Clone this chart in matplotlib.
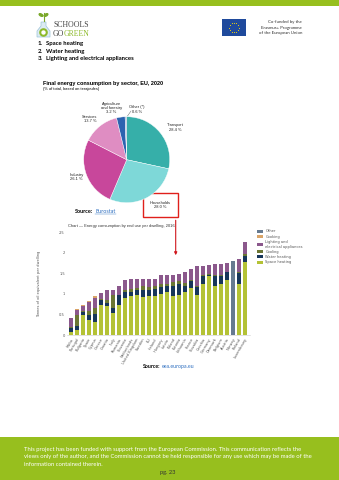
import matplotlib.pyplot as plt
import matplotlib.patches as mpatches
import numpy as np

green = "#97BF1E"

# pie data: final energy consumption by sector, EU 2020
sectors = ["Transport", "Households", "Industry", "Services", "Agriculture", "Other"]
shares = [28.4, 28.0, 26.1, 13.7, 3.2, 0.6]
pie_colors = ["#36AFA9", "#7ED8D8", "#C8479B", "#DF8DC2", "#2D63B0", "#8FA7CF"]

# bar data: energy consumption by end use per dwelling, 2016 (toe)
countries = ["Malta", "Portugal", "Bulgaria", "Spain", "Cyprus", "Greece", "Croatia", "Italy",
             "Romania", "Slovenia", "Netherlands", "United Kingdom", "Sweden", "EU", "Ireland",
             "Hungary", "Latvia", "Poland", "Estonia", "Lithuania", "France", "Slovakia",
             "Czechia", "Germany", "Denmark", "Belgium", "Austria", "Norway", "Finland",
             "Luxembourg"]
space = [0.09, 0.13, 0.49, 0.37, 0.31, 0.74, 0.70, 0.54, 0.74, 0.90, 0.94, 0.97, 0.93, 0.94, 0.96,
         1.00, 1.04, 0.96, 0.98, 1.04, 1.15, 0.98, 1.23, 1.43, 1.19, 1.23, 1.33, 0.0, 1.24, 1.78]
water = [0.08, 0.10, 0.08, 0.13, 0.20, 0.11, 0.08, 0.12, 0.23, 0.16, 0.12, 0.13, 0.16, 0.16, 0.15,
         0.18, 0.15, 0.24, 0.25, 0.15, 0.16, 0.18, 0.20, 0.03, 0.24, 0.20, 0.19, 0.0, 0.27, 0.14]
cooling = [0.04, 0.27, 0.02, 0.08, 0.15, 0.03, 0.08, 0.32, 0.01, 0.04, 0.06, 0.05, 0.10, 0.07, 0.08,
           0.07, 0.06, 0.10, 0.08, 0.08, 0.04, 0.04, 0.02, 0.02, 0.04, 0.04, 0.02, 0.0, 0.03, 0.04]
lighting = [0.20, 0.12, 0.11, 0.22, 0.24, 0.14, 0.23, 0.12, 0.21, 0.23, 0.25, 0.22, 0.18, 0.20, 0.18,
            0.20, 0.20, 0.16, 0.18, 0.26, 0.26, 0.47, 0.22, 0.21, 0.25, 0.25, 0.22, 0.0, 0.31, 0.29]
cooking = [0.02, 0.01, 0.03, 0.02, 0.04, 0.0, 0.0, 0.0, 0.01, 0.0, 0.0, 0.0, 0.0, 0.0, 0.0,
           0.0, 0.0, 0.0, 0.0, 0.0, 0.0, 0.01, 0.0, 0.0, 0.0, 0.0, 0.0, 0.0, 0.0, 0.0]
other = [0.0, 0.0, 0.0, 0.0, 0.0, 0.0, 0.0, 0.0, 0.0, 0.0, 0.0, 0.0, 0.0, 0.0, 0.0,
         0.0, 0.0, 0.0, 0.0, 0.0, 0.0, 0.0, 0.0, 0.0, 0.0, 0.0, 0.0, 1.80, 0.0, 0.0]
uses = ["Space heating", "Water heating", "Cooling", "Lighting and\nelectrical appliances", "Cooking", "Other"]
use_colors = ["#B4C235", "#17365A", "#6B7634", "#8B588C", "#D9A468", "#667A90"]

W, H = 339, 480
fig = plt.figure(figsize=(W / 100, H / 100), dpi=100, facecolor="white")

def box(x0, y0, x1, y1):
    # pixel box -> figure fraction rect
    return [x0 / W, 1 - y1 / H, (x1 - x0) / W, (y1 - y0) / H]

# page overlay in pixel coordinates
pg = fig.add_axes([0, 0, 1, 1])
pg.set_xlim(0, W)
pg.set_ylim(H, 0)
pg.axis("off")

pg.add_patch(mpatches.Rectangle((0, 0), W, 6, color=green, lw=0))
pg.add_patch(mpatches.Rectangle((0, 437), W, 43, color=green, lw=0))

# logo
pg.add_patch(mpatches.Polygon([[41, 22], [46, 22], [46, 26], [50, 31], [50, 37], [37, 37], [37, 31], [41, 26]],
                              closed=True, fc="#DCEBF2", ec="#9CC3D8", lw=0.5))
pg.add_patch(mpatches.Circle((43.5, 32.5), 3.6, color="#8DBA2A"))
pg.add_patch(mpatches.Circle((43.5, 32.5), 1.5, color="white"))
pg.plot([43.5, 43.5], [21, 13], color="#7AA82A", lw=0.8)
pg.add_patch(mpatches.Ellipse((41, 15), 4, 2, angle=30, color="#7AA82A"))
pg.add_patch(mpatches.Ellipse((46, 15), 4, 2, angle=-30, color="#7AA82A"))
pg.text(53, 25, "SCHOOLS", fontsize=5.6, family="Liberation Serif", color="#444444", va="center")
pg.text(53, 33.5, "GO", fontsize=5.6, family="Liberation Serif", color="#444444", va="center")
pg.text(64, 33.5, "GREEN", fontsize=5.6, family="Liberation Serif", color="#8DBA2A", va="center")

# EU flag
pg.add_patch(mpatches.Rectangle((222, 19), 24, 17, color="#1F4A9C", lw=0))
ang = np.linspace(0, 2 * np.pi, 13)[:-1]
pg.scatter(234 + 4.8 * np.cos(ang), 27.5 + 4.8 * np.sin(ang), s=0.4, color="#FFDD00", lw=0)
for k, line in enumerate(["Co-funded by the", "Erasmus+ Programme", "of the European Union"]):
    pg.text(302, 22 + 5.7 * k, line, fontsize=3.2, ha="right", va="center", color="#333333", family="Lato")

for k, item in enumerate(["Space heating", "Water heating", "Lighting and electrical appliances"]):
    pg.text(38, 43.5 + 7.6 * k, f"{k + 1}.", fontsize=4.3, fontweight="bold", va="center", family="Lato")
    pg.text(46.5, 43.5 + 7.6 * k, item, fontsize=4.3, fontweight="bold", va="center", family="Lato")

# pie chart
pg.text(43, 83.3, "Final energy consumption by sector, EU, 2020", fontsize=4.0, fontweight="bold",
        va="center", family="Liberation Sans")
pg.text(43, 88.7, "(% of total, based on terajoules)", fontsize=2.9, va="center", family="Liberation Sans")

axp = fig.add_axes(box(83.7, 116.7, 169.7, 202.7))
axp.pie(shares, colors=pie_colors, startangle=90, counterclock=False,
        wedgeprops=dict(edgecolor="white", linewidth=0.3))
axp.set_xlim(-1, 1)
axp.set_ylim(-1, 1)

pie_labels = [
    (175, 127.5, "Transport\n28.4 %"),
    (160.5, 204.7, "Households\n28.0 %"),
    (76.5, 177, "Industry\n26.1 %"),
    (90, 119, "Services\n13.7 %"),
    (111.5, 108, "Agriculture\nand forestry\n3.2 %"),
    (137, 109.5, "Other (*)\n0.6 %"),
]
for (x, y, s) in pie_labels:
    pg.text(x, y, s, fontsize=2.9, ha="center", va="center", family="Liberation Sans",
            linespacing=1.05, color="#222222")
pg.plot([131, 127.5], [111, 116], color="#555555", lw=0.3)
pg.add_patch(mpatches.Rectangle((142.5, 193), 35, 24, fill=False, ec="#E0201B", lw=1.0))
pg.annotate("", xy=(175.7, 258), xytext=(175.7, 217.5),
            arrowprops=dict(arrowstyle="-|>", color="#D0161C", lw=0.8, mutation_scale=4))

pg.text(75, 211.7, "Source:", fontsize=4.0, fontweight="bold", va="center", family="Lato")
pg.text(95, 211.7, "Eurostat", fontsize=4.0, color="#2E6FC0", va="center", family="Lato")
pg.plot([95, 115.5], [213.6, 213.6], color="#2E6FC0", lw=0.3)

# stacked bar chart
pg.text(68, 225.7, "Chart \u2014 Energy consumption by end use per dwelling, 2016", fontsize=2.9,
        va="center", color="#333333", family="Liberation Sans")

axb = fig.add_axes(box(67, 232, 250, 335.3))
axb.patch.set_alpha(0)
x = np.arange(len(countries))
series = [space, water, cooling, lighting, cooking, other]
bottom = np.zeros(len(countries))
handles = []
for vals, name, col in zip(series, uses, use_colors):
    h = axb.bar(x, vals, 0.74, bottom=bottom, color=col, label=name, lw=0)
    handles.append(h)
    bottom += np.array(vals)
axb.set_xlim(-0.62, 29.88)
axb.set_ylim(0, 2.5)
axb.set_yticks([0, 0.5, 1, 1.5, 2, 2.5])
axb.set_yticklabels(["0", "0.5", "1", "1.5", "2", "2.5"])
axb.set_xticks(x)
axb.set_xticklabels(countries, rotation=60, ha="right", rotation_mode="anchor")
axb.tick_params(axis="both", length=0, labelsize=2.6, labelcolor="#555555", pad=1.5)
for side in ["top", "right", "left"]:
    axb.spines[side].set_visible(False)
axb.spines["bottom"].set_color("#CCCCCC")
axb.spines["bottom"].set_linewidth(0.4)
axb.set_ylabel("Tonnes of oil equivalent per dwelling", fontsize=2.6, color="#555555", labelpad=13)
axb.legend(handles[::-1], uses[::-1], loc="upper left", bbox_to_anchor=(256 / W, 1 - 228 / H),
           bbox_transform=fig.transFigure, frameon=False, fontsize=2.6, handlelength=1.6,
           handleheight=0.9, labelspacing=0.35, handletextpad=0.6, borderaxespad=0,
           labelcolor="#555555")

pg.text(143, 366.7, "Source:", fontsize=3.8, fontweight="bold", va="center", family="Lato")
pg.text(161.5, 366.7, "eea.europa.eu", fontsize=3.8, color="#2E6FC0", va="center", family="Lato")

footer = ["This project has been funded with support from the European Commission. This communication reflects the",
          "views only of the author, and the Commission cannot be held responsible for any use which may be made of the",
          "information contained therein."]
for k, line in enumerate(footer):
    pg.text(24, 449.3 + 7.5 * k, line, fontsize=4.25, color="white", va="center", family="Lato")
pg.text(168, 472.5, "pg. 23", fontsize=4.1, color="#333333", ha="center", va="center", family="Lato")

fig.savefig("out.png", dpi=100)
